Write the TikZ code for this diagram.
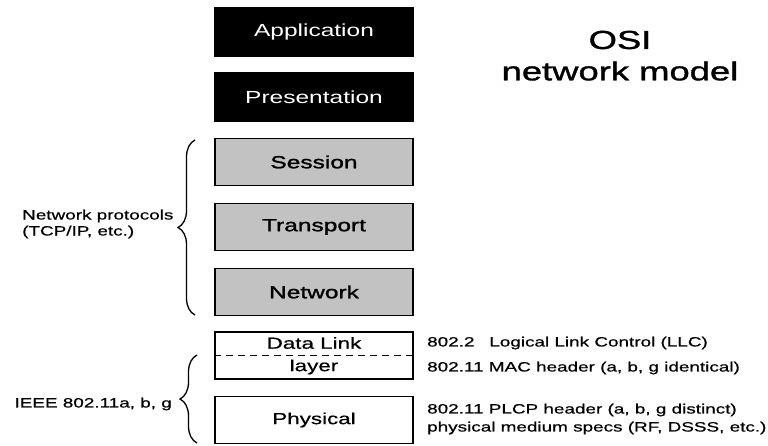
\documentclass[tikz,border=0pt]{standalone}
\usepackage{fontspec}
\setmainfont{Liberation Sans}[FakeStretch=1.4]
\newfontfamily\heavyface{Liberation Sans}[FakeStretch=1.4,FakeBold=1.4]
\newfontfamily\midface{Liberation Sans}[FakeStretch=1.4,FakeBold=0.6]
\usetikzlibrary{decorations.pathreplacing}
\begin{document}
\begin{tikzpicture}[x=1pt,y=-1pt,
  layer/.style={draw=black,line width=1.3pt,minimum width=198pt,inner sep=0pt,font=\fontsize{17.5}{20}\selectfont},
  darklayer/.style={layer,fill=black,text=white,minimum height=49pt},
  greylayer/.style={layer,fill=black!24,minimum height=47pt,font=\heavyface\fontsize{17.5}{20}\selectfont},
  linklayer/.style={layer,fill=white,minimum height=47pt,font=\midface\fontsize{16}{18}\selectfont},
  note/.style={inner sep=0pt,font=\midface\fontsize{13.5}{16}\selectfont},
  curly/.style={decorate,decoration={brace,amplitude=17pt,aspect=0.5},line width=1.3pt}
]
\useasboundingbox (0,0) rectangle (768,445);

% upper layers
\node[darklayer] (app) at (314,32) {Application};
\node[darklayer] (pres) at (314,97) {Presentation};
\node[greylayer] (sess) at (314,162) {Session};
\node[greylayer] (trans) at (314,227) {Transport};
\node[greylayer] (net) at (314,292) {Network};

% data link layer with its two sublayers
\node[linklayer] (dl) at (314,355.5) {};
\draw[line width=1.2pt,dash pattern=on 7pt off 5pt] (dl.west) -- (dl.east);
\node[inner sep=0pt,font=\midface\fontsize{16}{18}\selectfont] (dltop) at (314,343) {Data Link};
\node[inner sep=0pt,font=\midface\fontsize{16}{18}\selectfont] (dlbot) at (314,367) {layer};
\node[linklayer] (phy) at (314,420) {Physical};

% title
\node[inner sep=0pt,font=\heavyface\fontsize{26}{30}\selectfont] (osi) at (620,40) {OSI};
\node[inner sep=0pt,font=\heavyface\fontsize{26}{30}\selectfont] (model) at (620,71) {network model};

% braces and their labels
\coordinate (b1top) at (195,140);
\coordinate (b1bot) at (195,315);
\draw[curly] (b1bot) -- (b1top);
\node[note,anchor=west,align=left] (protos) at (22,224) {Network protocols\\(TCP/IP, etc.)};

\coordinate (b2top) at (197,355);
\coordinate (b2bot) at (197,443);
\draw[curly] (b2bot) -- (b2top);
\node[note,anchor=east] (ieee) at (172,404) {IEEE 802.11a, b, g};

% sublayer notes
\node[note,anchor=west] (llc) at (427,343) {802.2\hspace{1.1em}Logical Link Control (LLC)};
\node[note,anchor=west] (mac) at (427,368) {802.11 MAC header (a, b, g identical)};
\node[note,anchor=west] (plcp) at (427,410) {802.11 PLCP header (a, b, g distinct)};
\node[note,anchor=west] (pmd) at (427,428) {physical medium specs (RF, DSSS, etc.)};
\end{tikzpicture}
\end{document}
